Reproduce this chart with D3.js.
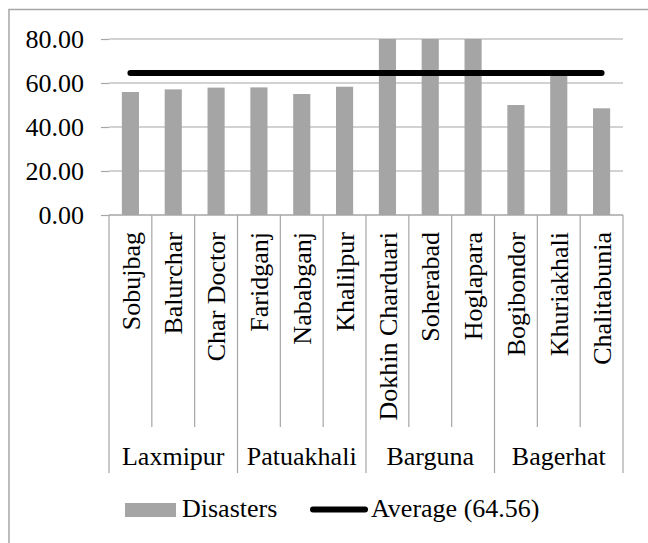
<!DOCTYPE html>
<html>
<head>
<meta charset="utf-8">
<script src="https://cdn.jsdelivr.net/npm/d3@7/dist/d3.min.js"></script>
<style>
  html, body { margin: 0; padding: 0; background: #fff; }
</style>
</head>
<body>
<svg id="chart" width="648" height="543"></svg>
<script>
// Villages (x categories), grouped by district
const villages = ["Sobujbag", "Balurchar", "Char Doctor", "Faridganj", "Nababganj", "Khalilpur",
  "Dokhin Charduari", "Soherabad", "Hoglapara", "Bogibondor", "Khuriakhali", "Chalitabunia"];
const districts = ["Laxmipur", "Patuakhali", "Barguna", "Bagerhat"];
const villagesPerDistrict = [3, 3, 3, 3];
// Disaster index per village
const disasters = [55.9, 57.1, 57.9, 58.0, 55.0, 58.3, 88.0, 90.0, 92.0, 50.0, 64.0, 48.5];
const average = 64.56;
const yTicks = [0, 20, 40, 60, 80];

const serif = "Liberation Serif";
const fontSize = "26px";
const svg = d3.select("#chart");
const margin = { left: 109, right: 623, top: 39, bottom: 215 };

// Chart frame
svg.append("rect")
  .attr("x", 9).attr("y", 9.5)
  .attr("width", 660).attr("height", 560)
  .attr("fill", "none").attr("stroke", "#a6a6a6").attr("stroke-width", 1.5);

const x = d3.scaleBand().domain(villages).range([margin.left, margin.right]).padding(0);
const y = d3.scaleLinear().domain([0, 80]).range([margin.bottom, margin.top]);

// Gridlines and y ticks
const yAxis = d3.axisLeft(y).tickValues(yTicks).tickFormat(d3.format(".2f")).tickSize(8).tickPadding(17);
const yg = svg.append("g").attr("transform", `translate(${margin.left},0)`).call(yAxis);
yg.attr("font-family", null).attr("font-size", null);
yg.select(".domain").remove();
yg.selectAll(".tick line").attr("stroke", "#a6a6a6").attr("stroke-width", 1.2);
yg.selectAll(".tick text").style("font-family", serif).style("font-size", fontSize).attr("fill", "#000");
svg.append("g").selectAll("line").data(yTicks).join("line")
  .attr("x1", margin.left).attr("x2", margin.right)
  .attr("y1", d => y(d)).attr("y2", d => y(d))
  .attr("stroke", "#a6a6a6").attr("stroke-width", 1.2);

// Bars, clipped to the plot area
svg.append("clipPath").attr("id", "plot-clip")
  .append("rect").attr("x", margin.left).attr("y", margin.top)
  .attr("width", margin.right - margin.left).attr("height", margin.bottom - margin.top);
const barW = x.bandwidth() * 0.4;
svg.append("g").attr("clip-path", "url(#plot-clip)")
  .selectAll("rect").data(villages).join("rect")
  .attr("x", d => x(d) + (x.bandwidth() - barW) / 2)
  .attr("width", barW)
  .attr("y", (d, i) => y(disasters[i]))
  .attr("height", (d, i) => y(0) - y(disasters[i]))
  .attr("fill", "#a5a5a5");

// Average line
svg.append("line")
  .attr("x1", x(villages[0]) + x.bandwidth() / 2)
  .attr("x2", x(villages[villages.length - 1]) + x.bandwidth() / 2)
  .attr("y1", y(average)).attr("y2", y(average))
  .attr("stroke", "#000").attr("stroke-width", 6).attr("stroke-linecap", "round");

// Category axis: village dividers and district dividers
const axisColor = "#a6a6a6";
const villageBottom = 427, districtBottom = 473;
const boundaries = [];
let start = 0;
villagesPerDistrict.forEach(n => { boundaries.push(start); start += n; });
boundaries.push(villages.length);
svg.append("line")
  .attr("x1", margin.left).attr("x2", margin.right)
  .attr("y1", y(0)).attr("y2", y(0))
  .attr("stroke", axisColor).attr("stroke-width", 1.2);
d3.range(villages.length + 1).forEach(i => {
  const xx = i < villages.length ? x(villages[i]) : margin.right;
  svg.append("line")
    .attr("x1", xx).attr("x2", xx)
    .attr("y1", y(0))
    .attr("y2", boundaries.includes(i) ? districtBottom : villageBottom)
    .attr("stroke", axisColor).attr("stroke-width", 1.2);
});

// Village labels (vertical)
svg.append("g").selectAll("text").data(villages).join("text")
  .attr("transform", d => `translate(${x(d) + x.bandwidth() / 2},232) rotate(-90)`)
  .attr("text-anchor", "end")
  .attr("dy", "0.35em")
  .style("font-family", serif).style("font-size", fontSize)
  .text(d => d);

// District labels
svg.append("g").selectAll("text").data(districts).join("text")
  .attr("x", (d, i) => {
    const a = x(villages[boundaries[i]]);
    const b = boundaries[i + 1] < villages.length ? x(villages[boundaries[i + 1]]) : margin.right;
    return (a + b) / 2;
  })
  .attr("y", 465)
  .attr("text-anchor", "middle")
  .style("font-family", serif).style("font-size", fontSize)
  .text(d => d);

// Legend
const lg = svg.append("g");
lg.append("rect").attr("x", 125).attr("y", 503).attr("width", 51).attr("height", 14).attr("fill", "#a5a5a5");
lg.append("text").attr("x", 182).attr("y", 517)
  .style("font-family", serif).style("font-size", fontSize).text("Disasters");
lg.append("line").attr("x1", 313).attr("x2", 365).attr("y1", 509.5).attr("y2", 509.5)
  .attr("stroke", "#000").attr("stroke-width", 6).attr("stroke-linecap", "round");
lg.append("text").attr("x", 371).attr("y", 517)
  .style("font-family", serif).style("font-size", fontSize)
  .text(`Average (${average.toFixed(2)})`);
</script>
</body>
</html>
